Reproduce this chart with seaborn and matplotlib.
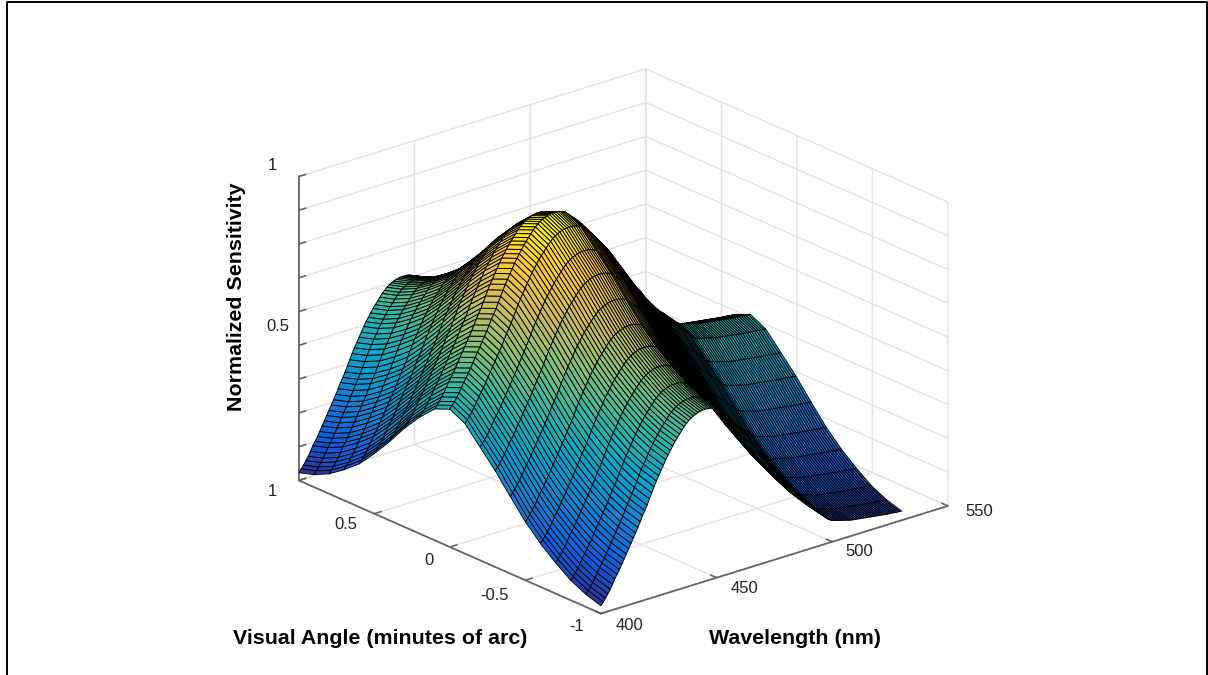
import numpy as np
import matplotlib
matplotlib.use("Agg")
import matplotlib.pyplot as plt
from matplotlib.lines import Line2D
from mpl_toolkits.mplot3d import proj3d
import seaborn as sns

# values: the sheet is the sum of the two edge profiles
wavelength = np.arange(400, 531, 1)
visual_angle = np.round(np.arange(-1, 1.05, 0.1), 1)

wave_profile = [
    .123, .132, .141, .152, .163, .176, .19, .201, .213, .226, .24, .253, .267, .28, .294, .307, .321, .336,
    .352, .365, .379, .395, .411, .427, .442, .455, .469, .482, .496, .508, .519, .53, .541, .55, .559, .568,
    .577, .584, .591, .596, .600, .603, .606, .608, .609, .609, .609, .608, .606, .603, .600, .593, .586, .58,
    .573, .566, .559, .55, .541, .532, .523, .514, .505, .494, .483, .471, .46, .449, .438, .426, .415, .404,
    .393, .381, .37, .361, .352, .341, .33, .321, .312, .303, .294, .285, .276, .267, .258, .249, .24, .233,
    .226, .219, .213, .206, .199, .192, .186, .179, .172, .167, .163, .161, .159, .157, .155, .153, .151, .149,
    .147, .146, .145, .144, .143, .142, .141, .14, .139, .138, .137, .136, .135, .134, .133, .132, .131, .131,
    .13, .129, .128, .128, .127,
]
angle_profile = [
    0, .014, .036, .068, .105, .15, .205, .262, .312, .362, .385,
    .366, .322, .27, .21, .155, .105, .068, .036, .014, 0,
]

wave_ticks = [400, 450, 500, 550]
wave_labels = ["400", "450", "500", "550"]
angle_ticks = [-1, -0.5, 0, 0.5, 1]
angle_labels = ["-1", "-0.5", "0", "0.5", "1"]
sens_ticks = [.1, .2, .3, .4, .5, .6, .7, .8, .9, 1]

parula_colors = ["#352a87", "#0f5cdd", "#1481d6", "#06a4ca", "#2eb7a4", "#87bf77", "#d1bb59", "#fec832", "#f9fb0e"]

sns.set_theme(style="white")
plt.rcParams["font.family"] = ["Liberation Sans", "DejaVu Sans"]

parula = sns.blend_palette(parula_colors, as_cmap=True)

W, A = np.meshgrid(wavelength, visual_angle)
Z = np.array(angle_profile)[:, None] + np.array(wave_profile)[None, :]

fig = plt.figure(figsize=(12.08, 6.75), dpi=100)
ax = fig.add_axes([0.0085, -0.019, 1.0, 1.0], projection="3d", proj_type="ortho")
ax.view_init(elev=21.7, azim=-130)
ax.set_box_aspect((0.983, 1.02, 0.71), zoom=1.05)

surf = ax.plot_surface(W, A, Z, cmap=parula, vmin=0.1, vmax=1, rstride=1, cstride=1,
                       edgecolor="black", linewidth=0.65, shade=False, antialiased=True)
surf.set_clip_on(False)

ax.set_xlim(400, 550)
ax.set_ylim(-1, 1)
ax.set_zlim(0.1, 1)
ax.set_xticks(wave_ticks)
ax.set_yticks(angle_ticks)
ax.set_zticks(sens_ticks)
ax.set_xticklabels([])
ax.set_yticklabels([])
ax.set_zticklabels([])
ax.tick_params(color="#666666")

for axis in [ax.xaxis, ax.yaxis, ax.zaxis]:
    axis.set_pane_color((1, 1, 1, 1))
    axis.pane.set_edgecolor("white")
    axis.line.set_color("#666666")
    axis.line.set_linewidth(1.3)
    axis._axinfo["grid"].update(color="#e2e2e2", linewidth=1.0)
    axis._axinfo["tick"].update(inward_factor=0.0, outward_factor=0.25, linewidth={True: 1.2, False: 1.2}, color="#666666")


def tick_text(text, x, y, z, dx, dy):
    # tick label placed dx, dy pixels from the projected tick
    px, py, _ = proj3d.proj_transform(x, y, z, ax.get_proj())
    ax.annotate(text, xy=(px, py), xycoords="data", xytext=(dx, dy), textcoords="offset pixels",
                ha="center", va="center", fontsize=12, color="#222222", annotation_clip=False)


angle_shift = [(-24, -13), (-31, -15), (-21, -13), (-29, -11), (-26, -11)]
for val, lab, shift in zip(angle_ticks, angle_labels, angle_shift):
    tick_text(lab, 400, val, 0.1, *shift)

wave_shift = [(29, -12), (28, -11), (27, -10), (31, -6)]
for val, lab, shift in zip(wave_ticks, wave_labels, wave_shift):
    tick_text(lab, val, -1, 0.1, *shift)

tick_text("1", 400, 1, 1, -26, 11)
tick_text("0.5", 400, 1, 0.5, -21, 19)

fig.text(0.3146, 0.0548, "Visual Angle (minutes of arc)", fontsize=15.4, fontweight="bold", color="black", ha="center", va="center")
fig.text(0.658, 0.0548, "Wavelength (nm)", fontsize=15.4, fontweight="bold", color="black", ha="center", va="center")
fig.text(0.1954, 0.56, "Normalized Sensitivity", fontsize=15.4, fontweight="bold", color="black", rotation=90, ha="center", va="center")

# black frame from the original slide, no bottom edge
fig.add_artist(Line2D([7/1208, 7/1208, 1207/1208, 1207/1208], [0, 1-2/675, 1-2/675, 0], color="black", lw=1.4))

fig.savefig("out.png", dpi=100)
